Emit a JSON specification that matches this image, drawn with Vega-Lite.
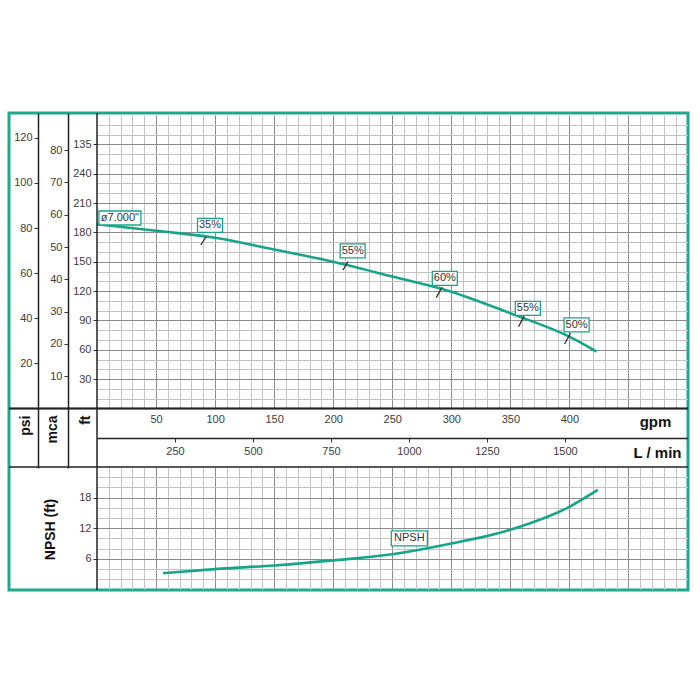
{
  "$schema": "https://vega.github.io/schema/vega-lite/v6.json",
  "width": 679,
  "height": 477,
  "autosize": {"type": "none"},
  "padding": {"left": 9, "top": 113, "right": 12, "bottom": 110},
  "background": "white",
  "config": {
    "view": {"stroke": "#1fa88c", "strokeWidth": 3},
    "font": "Liberation Sans",
    "axis": {"labelFont": "Liberation Sans", "labelFontSize": 11, "labelColor": "#3c3c3c", "titleFont": "Liberation Sans", "gridWidth": 1, "labelFlush": false, "labelOverlap": false}
  },
  "datasets": {
    "head": [
      {"gpm": 0, "ft": 188.3}, {"gpm": 50, "ft": 181.7}, {"gpm": 100, "ft": 174.6}, {"gpm": 150, "ft": 162.5},
      {"gpm": 200, "ft": 150.0}, {"gpm": 250, "ft": 134.9}, {"gpm": 300, "ft": 119.4}, {"gpm": 350, "ft": 97.3},
      {"gpm": 400, "ft": 73.4}, {"gpm": 423, "ft": 58.1}
    ],
    "ticks": [
      {"eff": "35%", "g1": 87.9, "f1": 167.1, "g2": 92.4, "f2": 175.6},
      {"eff": "55%", "g1": 208.3, "f1": 141.6, "g2": 212.5, "f2": 150.1},
      {"eff": "60%", "g1": 287.3, "f1": 113.3, "g2": 292.1, "f2": 123.9},
      {"eff": "55%", "g1": 356.9, "f1": 83.6, "g2": 361.7, "f2": 94.6},
      {"eff": "50%", "g1": 395.9, "f1": 65.9, "g2": 401.0, "f2": 76.9}
    ],
    "effLabels": [
      {"label": "35%", "gpm": 95.7, "ft": 187.1},
      {"label": "55%", "gpm": 216.5, "ft": 161.2},
      {"label": "60%", "gpm": 294.5, "ft": 133.1},
      {"label": "55%", "gpm": 364.8, "ft": 102.4},
      {"label": "50%", "gpm": 406.1, "ft": 85.4}
    ],
    "diamLabel": [{"label": "ø7.000\"", "gpm": 19.4, "ft": 194.7}],
    "allLabels": [
      {"label": "ø7.000\"", "gpm": 19.4, "ft": 194.7},
      {"label": "35%", "gpm": 95.7, "ft": 187.1},
      {"label": "55%", "gpm": 216.5, "ft": 161.2},
      {"label": "60%", "gpm": 294.5, "ft": 133.1},
      {"label": "55%", "gpm": 364.8, "ft": 102.4},
      {"label": "50%", "gpm": 406.1, "ft": 85.4}
    ],
    "npsh": [
      {"gpm": 56, "npsh": 3.2}, {"gpm": 100, "npsh": 4.0}, {"gpm": 150, "npsh": 4.7}, {"gpm": 200, "npsh": 5.7},
      {"gpm": 250, "npsh": 6.9}, {"gpm": 300, "npsh": 9.0}, {"gpm": 350, "npsh": 11.7}, {"gpm": 400, "npsh": 16.2},
      {"gpm": 424, "npsh": 19.5}
    ],
    "npshLabel": [{"label": "NPSH", "gpm": 264.5, "npsh": 10.0}],
    "one": [{"k": 0}]
  },
  "layer": [
    {
      "data": {"name": "head"},
      "mark": {"type": "line", "color": "#17a589", "strokeWidth": 2.6, "interpolate": "monotone"},
      "encoding": {
        "x": {"field": "gpm", "type": "quantitative",
          "scale": {"domain": [0, 500], "range": [88, 678.5], "nice": false, "zero": false},
          "axis": {"orient": "top", "values": [10,20,30,40,60,70,80,90,110,120,130,140,160,170,180,190,210,220,230,240,260,270,280,290,310,320,330,340,360,370,380,390,410,420,430,440,460,470,480,490],
            "grid": true, "gridColor": "#c2c2c2", "labels": false, "ticks": false, "domain": false, "title": null}},
        "y": {"field": "ft", "type": "quantitative",
          "scale": {"domain": [0, 300], "range": [295.5, 2], "nice": false, "zero": false},
          "axis": {"orient": "left", "values": [10,20,40,50,70,80,100,110,130,140,160,170,190,200,220,230,250,260,280,290],
            "grid": true, "gridColor": "#c2c2c2", "labels": false, "ticks": false, "domain": false, "title": null}}
      }
    },
    {
      "data": {"name": "ticks"},
      "mark": {"type": "rule", "color": "#222222", "strokeWidth": 1.2},
      "encoding": {
        "x": {"field": "g1", "type": "quantitative",
          "scale": {"domain": [0, 500], "range": [88, 678.5], "nice": false, "zero": false},
          "axis": {"orient": "top", "values": [50,100,150,200,250,300,350,400,450],
            "grid": true, "gridColor": "#8a8a8a", "labels": false, "ticks": false, "domain": false, "title": null}},
        "x2": {"field": "g2"},
        "y": {"field": "f1", "type": "quantitative",
          "scale": {"domain": [0, 300], "range": [295.5, 2], "nice": false, "zero": false},
          "axis": {"orient": "left", "values": [30,60,90,120,150,180,210,240,270],
            "grid": true, "gridColor": "#8a8a8a", "labels": false, "ticks": false, "domain": false, "title": null}},
        "y2": {"field": "f2"}
      }
    },
    {
      "data": {"name": "effLabels"},
      "mark": {"type": "rect", "width": 25, "height": 14, "fill": "white", "stroke": "#17a589", "strokeWidth": 1.3},
      "encoding": {
        "x": {"field": "gpm", "type": "quantitative",
          "scale": {"domain": [0, 500], "range": [88, 678.5], "nice": false, "zero": false},
          "axis": {"orient": "bottom", "offset": -181.5, "values": [50,100,150,200,250,300,350,400],
            "grid": false, "ticks": false, "domain": false, "labelPadding": 4.5, "format": "d",
            "title": "gpm", "titleX": 646, "titleY": 12.5, "titleAlign": "center", "titleBaseline": "middle", "titleAngle": 0,
            "titleFontSize": 15, "titleFontWeight": "bold", "titleColor": "#111111"}},
        "y": {"field": "ft", "type": "quantitative",
          "scale": {"domain": [0, 300], "range": [295.5, 2], "nice": false, "zero": false}, "axis": null}
      }
    },
    {
      "data": {"name": "diamLabel"},
      "mark": {"type": "rect", "width": 42, "height": 14, "fill": "white", "stroke": "#17a589", "strokeWidth": 1.3},
      "encoding": {
        "x": {"field": "gpm", "type": "quantitative",
          "scale": {"domain": [0, 500], "range": [88, 678.5], "nice": false, "zero": false}, "axis": null},
        "y": {"field": "ft", "type": "quantitative",
          "scale": {"domain": [0, 300], "range": [295.5, 2], "nice": false, "zero": false}, "axis": null}
      }
    },
    {
      "data": {"name": "allLabels"},
      "mark": {"type": "text", "fontSize": 11, "color": "#333333", "align": "center", "baseline": "middle", "font": "Liberation Sans"},
      "encoding": {
        "x": {"field": "gpm", "type": "quantitative",
          "scale": {"domain": [0, 500], "range": [88, 678.5], "nice": false, "zero": false}, "axis": null},
        "y": {"field": "ft", "type": "quantitative",
          "scale": {"domain": [0, 300], "range": [295.5, 2], "nice": false, "zero": false}, "axis": null},
        "text": {"field": "label"}
      }
    },
    {
      "data": {"name": "npsh"},
      "mark": {"type": "line", "color": "#17a589", "strokeWidth": 2.6, "interpolate": "monotone"},
      "encoding": {
        "x": {"field": "gpm", "type": "quantitative",
          "scale": {"domain": [0, 500], "range": [88, 678.5], "nice": false, "zero": false},
          "axis": {"orient": "top", "values": [10,20,30,40,60,70,80,90,110,120,130,140,160,170,180,190,210,220,230,240,260,270,280,290,310,320,330,340,360,370,380,390,410,420,430,440,460,470,480,490],
            "grid": true, "gridColor": "#c2c2c2", "labels": false, "ticks": false, "domain": false, "title": null}},
        "y": {"field": "npsh", "type": "quantitative",
          "scale": {"domain": [0, 24], "range": [476.5, 354], "nice": false, "zero": false},
          "axis": {"orient": "left", "values": [2,4,8,10,14,16,20,22],
            "grid": true, "gridColor": "#c2c2c2", "labels": false, "ticks": false, "domain": false, "title": null}}
      }
    },
    {
      "data": {"name": "npshLabel"},
      "mark": {"type": "rect", "width": 36, "height": 15, "fill": "white", "stroke": "#17a589", "strokeWidth": 1.3},
      "encoding": {
        "x": {"field": "gpm", "type": "quantitative",
          "scale": {"domain": [0, 500], "range": [88, 678.5], "nice": false, "zero": false},
          "axis": {"orient": "top", "values": [50,100,150,200,250,300,350,400,450],
            "grid": true, "gridColor": "#8a8a8a", "labels": false, "ticks": false, "domain": false, "title": null}},
        "y": {"field": "npsh", "type": "quantitative",
          "scale": {"domain": [0, 24], "range": [476.5, 354], "nice": false, "zero": false},
          "axis": {"orient": "left", "offset": -88, "values": [6, 12, 18],
            "grid": true, "gridColor": "#8a8a8a", "domain": false, "ticks": true, "tickSize": 4, "tickColor": "#333333", "labelPadding": 2,
            "title": "NPSH (ft)", "titleX": -47, "titleY": 416, "titleAngle": -90, "titleAlign": "center", "titleBaseline": "middle",
            "titleFontSize": 14, "titleFontWeight": "bold", "titleColor": "#111111"}}
      }
    },
    {
      "data": {"name": "npshLabel"},
      "mark": {"type": "text", "fontSize": 11, "color": "#333333", "align": "center", "baseline": "middle", "font": "Liberation Sans"},
      "encoding": {
        "x": {"field": "gpm", "type": "quantitative",
          "scale": {"domain": [0, 500], "range": [88, 678.5], "nice": false, "zero": false}, "axis": null},
        "y": {"field": "npsh", "type": "quantitative",
          "scale": {"domain": [0, 24], "range": [476.5, 354], "nice": false, "zero": false}, "axis": null},
        "text": {"field": "label"}
      }
    },
    {
      "data": {"name": "one"},
      "mark": {"type": "rule", "color": "#222222", "strokeWidth": 1.5},
      "encoding": {
        "y": {"datum": 0, "type": "quantitative",
          "scale": {"domain": [-26.4, 131.0], "range": [355, 0], "nice": false, "zero": false},
          "axis": {"orient": "left", "offset": -29, "values": [20, 40, 60, 80, 100, 120], "grid": false,
            "domain": true, "domainColor": "#222222", "domainWidth": 1.5, "ticks": true, "tickSize": 4, "tickColor": "#333333", "labelPadding": 2,
            "title": "psi", "titleX": -13, "titleY": 302, "titleAngle": -90, "titleAlign": "right", "titleBaseline": "middle",
            "titleFontSize": 14, "titleFontWeight": "bold", "titleColor": "#111111"}}
      }
    },
    {
      "data": {"name": "one"},
      "mark": {"type": "rule", "color": "#222222", "strokeWidth": 1.5},
      "encoding": {
        "y": {"datum": 0, "type": "quantitative",
          "scale": {"domain": [-18.4, 91.5], "range": [355, 0], "nice": false, "zero": false},
          "axis": {"orient": "left", "offset": -59, "values": [10, 20, 30, 40, 50, 60, 70, 80], "grid": false,
            "domain": true, "domainColor": "#222222", "domainWidth": 1.5, "ticks": true, "tickSize": 4, "tickColor": "#333333", "labelPadding": 2,
            "title": "mca", "titleX": -15.5, "titleY": 302, "titleAngle": -90, "titleAlign": "right", "titleBaseline": "middle",
            "titleFontSize": 14, "titleFontWeight": "bold", "titleColor": "#111111"}}
      }
    },
    {
      "data": {"name": "one"},
      "mark": {"type": "rule", "color": "#222222", "strokeWidth": 1.5},
      "encoding": {
        "y": {"datum": 0, "type": "quantitative",
          "scale": {"domain": [-60.8, 302.0], "range": [355, 0], "nice": false, "zero": false},
          "axis": {"orient": "left", "offset": -88, "values": [30, 60, 90, 120, 150, 180, 210, 240, 270], "grid": false,
            "labelExpr": "datum.value == 270 ? '135' : datum.label",
            "domain": false, "ticks": true, "tickSize": 4, "tickColor": "#333333", "labelPadding": 2,
            "title": "ft", "titleX": -12, "titleY": 302, "titleAngle": -90, "titleAlign": "right", "titleBaseline": "middle",
            "titleFontSize": 14, "titleFontWeight": "bold", "titleColor": "#111111"}}
      }
    },
    {
      "data": {"name": "one"},
      "mark": {"type": "rule", "color": "#222222", "strokeWidth": 1.5},
      "encoding": {
        "x": {"datum": 0, "type": "quantitative",
          "scale": {"domain": [0, 1892.7], "range": [88, 678.5], "nice": false, "zero": false},
          "axis": {"orient": "bottom", "offset": -152, "values": [250, 500, 750, 1000, 1250, 1500], "grid": false, "format": "d",
            "domain": true, "domainColor": "#222222", "domainWidth": 1.5, "ticks": true, "tickSize": 4, "tickColor": "#333333", "labelPadding": 3,
            "title": "L / min", "titleX": 648, "titleY": 14, "titleAngle": 0, "titleAlign": "center", "titleBaseline": "middle",
            "titleFontSize": 15, "titleFontWeight": "bold", "titleColor": "#111111"}}
      }
    },
    {
      "data": {"name": "one"},
      "mark": {"type": "rule", "color": "#222222", "strokeWidth": 1.5},
      "encoding": {
        "y": {"datum": 24, "type": "quantitative",
          "scale": {"domain": [0, 24], "range": [476.5, 354], "nice": false, "zero": false}, "axis": null}
      }
    }
  ],
  "resolve": {
    "scale": {"x": "independent", "y": "independent"},
    "axis": {"x": "independent", "y": "independent"}
  }
}
